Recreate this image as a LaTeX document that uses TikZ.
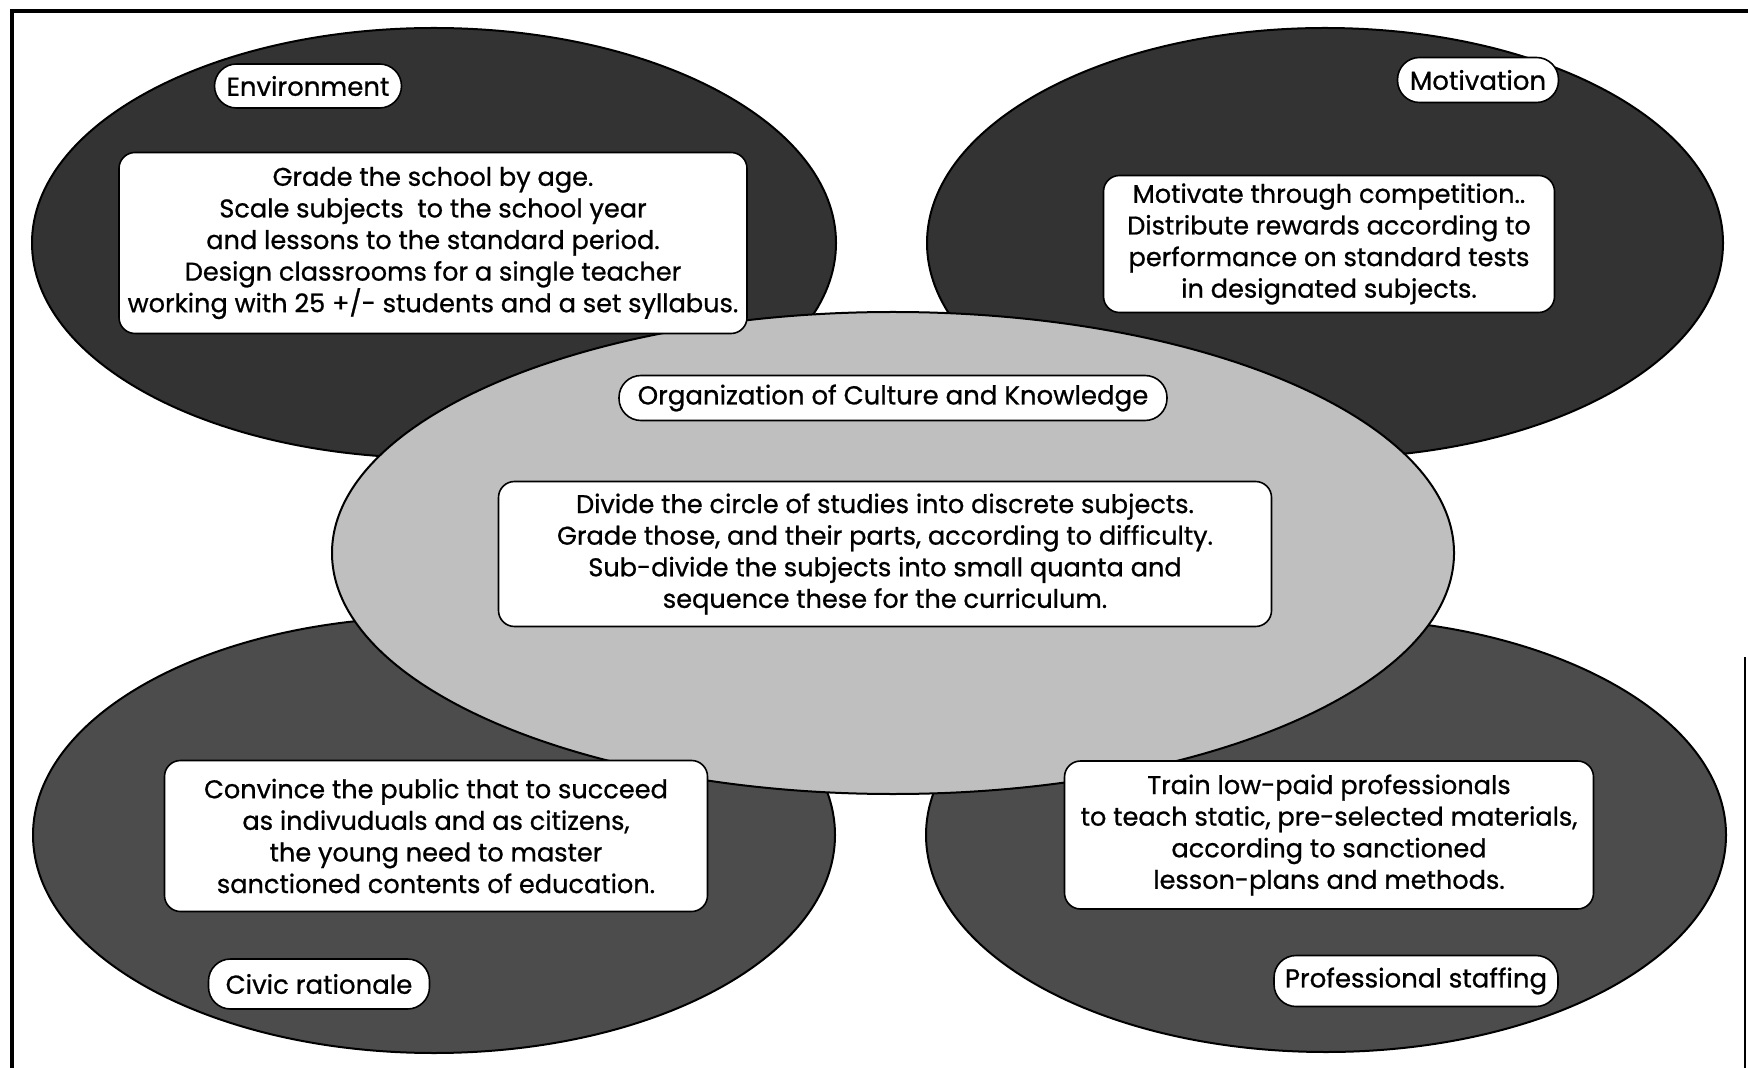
\documentclass[tikz,border=0pt]{standalone}
\usepackage{fontspec}
\setmainfont{Poppins}[UprightFeatures={FakeBold=0.8}]
\usetikzlibrary{shapes.geometric}
\begin{document}
\begin{tikzpicture}[x=0.5pt,y=-0.5pt,
  blob/.style={ellipse, draw=black, line width=1pt, inner sep=0pt},
  darkblob/.style={blob, fill=black!80},
  midblob/.style={blob, fill=black!70},
  lightblob/.style={blob, fill=black!25},
  txtbox/.style={draw=black, line width=0.8pt, fill=white, rounded corners=8pt,
    align=center, inner sep=0pt, font=\fontsize{12.8}{15.8}\selectfont},
  tag/.style={draw=black, line width=0.8pt, fill=white, rounded corners=11pt,
    align=center, inner sep=0pt, font=\fontsize{13}{15.8}\selectfont}]
\useasboundingbox (0,0) rectangle (1748,1068);
% frame
\coordinate (ftl) at (12,11);
\coordinate (ftr) at (1748,11);
\coordinate (fbl) at (12,1068);
\coordinate (frt) at (1745,657);
\coordinate (frb) at (1745,1068);
\draw[line width=1.6pt] (fbl) -- (ftl) -- (ftr);
\draw[line width=1.4pt] (frt) -- (frb);
% ellipses
\node[darkblob, minimum width=402pt, minimum height=215pt] (envE) at (434,243) {};
\node[darkblob, minimum width=398pt, minimum height=215pt] (motE) at (1325,243) {};
\node[midblob, minimum width=401pt, minimum height=218pt] (civE) at (434,835) {};
\node[midblob, minimum width=400pt, minimum height=217pt] (proE) at (1326,835) {};
\node[lightblob, minimum width=561pt, minimum height=241pt] (orgE) at (893,553) {};
% labels
\node[tag, minimum width=93.5pt, minimum height=22pt] (envL) at (308,86) {Environment};
\node[tag, minimum width=80.5pt, minimum height=22.5pt] (motL) at (1478,80) {Motivation};
\node[tag, minimum width=274pt, minimum height=22.5pt] (orgL) at (893,398) {Organization of Culture and Knowledge};
\node[tag, minimum width=110.5pt, minimum height=25pt] (civL) at (319,984) {Civic rationale};
\node[tag, minimum width=142pt, minimum height=25.5pt] (proL) at (1416,981) {Professional staffing};
% text boxes
\node[txtbox, minimum width=314pt, minimum height=90.5pt] (envT) at (433,243)
  {Grade the school by age.\\ Scale subjects\ \ to the school year\\ and lessons to the standard period.\\ Design classrooms for a single teacher\\ working with 25 +/- students and a set syllabus.};
\node[txtbox, minimum width=225.5pt, minimum height=68.5pt] (motT) at (1329,244)
  {Motivate through competition..\\ Distribute rewards according to\\ performance on standard tests\\ in designated subjects.};
\node[txtbox, minimum width=386.5pt, minimum height=72.5pt] (orgT) at (885,554)
  {Divide the circle of studies into discrete subjects.\\ Grade those, and their parts, according to difficulty.\\ Sub-divide the subjects into small quanta and\\ sequence these for the curriculum.};
\node[txtbox, minimum width=271.5pt, minimum height=75.5pt] (civT) at (436,836)
  {Convince the public that to succeed\\ as indivuduals and as citizens,\\ the young need to master\\ sanctioned contents of education.};
\node[txtbox, minimum width=264.5pt, minimum height=74pt] (proT) at (1329,835)
  {Train low-paid professionals\\ to teach static, pre-selected materials,\\ according to sanctioned\\ lesson-plans and methods.};
\end{tikzpicture}
\end{document}
